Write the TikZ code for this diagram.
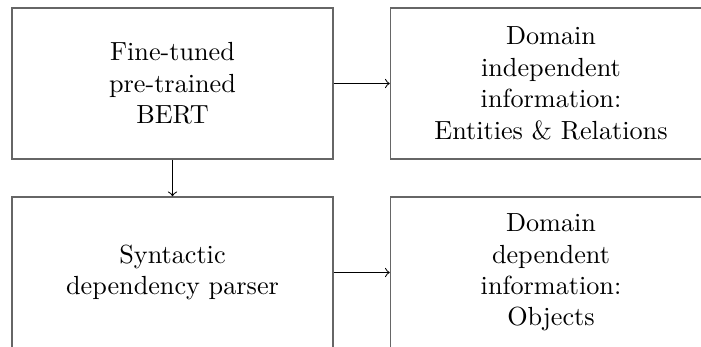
\documentclass[tikz,border=0pt]{standalone}
\usetikzlibrary{arrows}
\begin{document}
\begin{tikzpicture}[x=0.3817pt, y=-0.3817pt,
  stagebox/.style={draw=black!60, line width=0.6pt, rectangle,
    minimum width=122.5pt, minimum height=57.6pt, align=center,
    inner sep=0pt},
  flow/.style={->, line width=0.4pt, black}]
  \useasboundingbox (0,0) rectangle (701,347);
  \clip (0,0) rectangle (701,347);
  % processing stages (left column)
  \node[stagebox] (bert) at (172.5,83.5) {Fine-tuned\\pre-trained\\BERT};
  \node[stagebox] (parser) at (172.5,272.5) {Syntactic\\dependency parser};
  % extracted information (right column)
  \node[stagebox] (indep) at (551,83.5) {Domain\\independent\\information:\\Entities \& Relations};
  \node[stagebox] (dep) at (551,272.5) {Domain\\dependent\\information:\\Objects};
  % connectors
  \draw[flow] (bert) -- (indep);
  \draw[flow] (parser) -- (dep);
  \draw[flow] (bert) -- (parser);
\end{tikzpicture}
\end{document}
